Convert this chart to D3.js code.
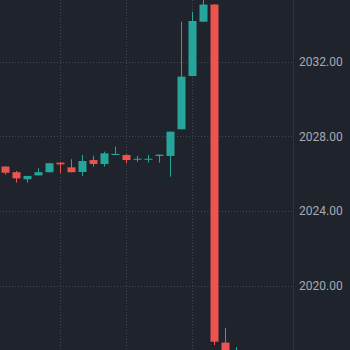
<!DOCTYPE html>
<html>
<head>
<meta charset="utf-8">
<script src="https://cdn.jsdelivr.net/npm/d3@7"></script>
<style>
  html, body { margin: 0; padding: 0; background: #1f242c; }
  svg { display: block; }
  .price-axis text { fill: #a7aab3; font-family: Roboto, "Noto Sans", sans-serif; font-size: 12px; }
</style>
</head>
<body>
<svg id="chart" width="350" height="350"></svg>
<script>
// candle data
const opens  = [2026.37, 2026.07, 2025.69, 2025.90, 2026.07, 2026.58, 2026.33, 2026.08, 2026.72, 2026.51, 2026.99,
                2026.99, 2026.76, 2026.76, 2026.94, 2026.94, 2028.37, 2031.22, 2034.13, 2035.05, 2016.94, 2015.60];
const highs  = [2026.40, 2026.14, 2025.87, 2026.28, 2026.57, 2026.62, 2026.76, 2026.99, 2026.95, 2027.17, 2027.44,
                2027.02, 2026.94, 2026.99, 2027.01, 2028.24, 2034.13, 2034.67, 2035.60, 2035.08, 2017.73, 2016.70];
const lows   = [2025.94, 2025.51, 2025.51, 2025.90, 2026.06, 2026.01, 2026.06, 2025.87, 2026.37, 2026.37, 2026.99,
                2026.55, 2026.63, 2026.58, 2026.58, 2025.83, 2028.37, 2031.22, 2034.13, 2016.81, 2015.80, 2015.30];
const closes = [2026.04, 2025.74, 2025.87, 2026.07, 2026.55, 2026.49, 2026.07, 2026.67, 2026.51, 2027.08, 2027.05,
                2026.72, 2026.79, 2026.79, 2027.01, 2028.24, 2031.19, 2034.17, 2035.05, 2016.99, 2016.00, 2016.40];
const timeTicks = [5, 11, 17];
const priceTicks = [2020, 2024, 2028, 2032];

const width = 350, height = 350;
const axisX = 293;
const upColor = "#26a69a", downColor = "#ef5350";

const candles = opens.map((o, i) => ({ i, o, h: highs[i], l: lows[i], c: closes[i] }));

const svg = d3.select("#chart");

const x = d3.scaleLinear().domain([0, 21]).range([4.7, 235.7]);
const y = d3.scaleLinear().domain([2020, 2032]).range([285.5, 61.5]);

// grid
const grid = svg.append("g").attr("class", "grid")
  .attr("stroke", "#414652").attr("stroke-dasharray", "1,2");

grid.selectAll("line.h")
  .data(priceTicks)
  .enter()
  .append("line")
  .attr("class", "h")
  .attr("x1", 0).attr("x2", axisX)
  .attr("y1", d => Math.round(y(d)) + 0.5)
  .attr("y2", d => Math.round(y(d)) + 0.5);

grid.selectAll("line.v")
  .data(timeTicks)
  .enter()
  .append("line")
  .attr("class", "v")
  .attr("y1", 0).attr("y2", height)
  .attr("x1", d => Math.round(x(d)) + 0.5)
  .attr("x2", d => Math.round(x(d)) + 0.5);

// candles
const plot = svg.append("g").attr("class", "candles");
const bodyW = 8;

const g = plot.selectAll("g.candle")
  .data(candles)
  .enter()
  .append("g")
  .attr("class", "candle")
  .attr("fill", d => d.c >= d.o ? upColor : downColor)
  .attr("stroke", d => d.c >= d.o ? upColor : downColor);

g.append("line")
  .attr("x1", d => Math.round(x(d.i)) + 0.5)
  .attr("x2", d => Math.round(x(d.i)) + 0.5)
  .attr("y1", d => y(d.h))
  .attr("y2", d => y(d.l))
  .attr("stroke-width", 1);

g.append("rect")
  .attr("stroke", "none")
  .attr("x", d => Math.round(x(d.i)) + 0.5 - bodyW / 2)
  .attr("width", bodyW)
  .attr("y", d => y(Math.max(d.o, d.c)))
  .attr("height", d => Math.max(1, Math.abs(y(d.o) - y(d.c))));

// price axis
svg.append("rect")
  .attr("x", axisX).attr("y", 0)
  .attr("width", width - axisX).attr("height", height)
  .attr("fill", "#1f242c");

svg.append("line")
  .attr("x1", axisX + 0.5).attr("x2", axisX + 0.5)
  .attr("y1", 0).attr("y2", height)
  .attr("stroke", "#2c313b");

const axis = svg.append("g")
  .attr("class", "price-axis")
  .attr("transform", "translate(" + axisX + ",0)")
  .call(d3.axisRight(y).tickValues(priceTicks).tickFormat(d3.format(".2f")).tickSize(0).tickPadding(6));
axis.select(".domain").remove();
</script>
</body>
</html>
